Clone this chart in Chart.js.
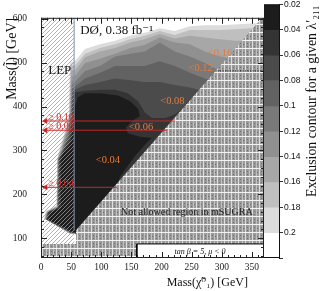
<!DOCTYPE html>
<html>
<head>
<meta charset="utf-8">
<script src="https://cdn.jsdelivr.net/npm/chart.js@4.4.0/dist/chart.umd.min.js"></script>
<style>
html, body { margin: 0; padding: 0; background: #fff; }
#wrap { position: relative; width: 320px; height: 291px; }
#main { position: absolute; left: 0; top: 0; }
#bar { position: absolute; left: 264px; top: 0; }
</style>
</head>
<body>
<div id="wrap">
  <canvas id="main" width="320" height="291"></canvas>
  <canvas id="bar" width="56" height="291"></canvas>
</div>
<script>
// contour levels (region where the limit on lambda'211 is below the level)
var levels = [0.20, 0.18, 0.16, 0.14, 0.12, 0.10, 0.08, 0.06, 0.04];
// colour bar band edges
var cbEdges = [0.02, 0.04, 0.06, 0.08, 0.10, 0.12, 0.14, 0.16, 0.18, 0.20, 0.22];
var bandColors = ['#1c1c1c', '#343434', '#4b4b4b', '#626262', '#797979', '#909090', '#a7a7a7', '#bfbfbf', '#dcdcdc', '#ffffff'];

// contour outlines [m(chi), m(slepton)] in GeV
var c20 = [[380,591],[347,589],[322,587],[297,585],[272,585],[247,583],[222,572],[197,578],[172,568],[148,561],[123,550],[98,542],[73,531],[56,503],[48,500],[46,380],[40,345],[32,310],[27,281],[26,175],[8,162],[5,145],[48,110],[56,110],[62,106],[380,106]];
var c18 = [[380,581],[347,578],[322,576],[297,574],[272,574],[247,574],[222,563],[197,572],[172,561],[148,553],[123,542],[98,533],[73,520],[56,492],[49,495],[47,380],[41,345],[33,308],[27,281],[26,173],[9,161],[6,145],[48,110],[56,110],[62,106],[380,106]];
var c16 = [[380,550],[347,550],[322,550],[297,553],[272,557],[247,561],[222,555],[197,565],[172,553],[148,546],[123,533],[98,525],[73,512],[56,481],[50,483],[48,380],[42,345],[34,306],[28,281],[27,172],[10,161],[7,144],[49,111],[56,111],[62,106],[380,106]];
var c14 = [[380,509],[347,509],[322,509],[297,514],[272,525],[247,542],[222,546],[197,557],[172,540],[148,533],[123,520],[98,509],[73,499],[56,469],[51,468],[49,380],[43,345],[35,304],[28,281],[27,171],[10,160],[7,144],[49,111],[56,111],[62,106],[380,106]];
var c12 = [[380,475],[347,475],[322,475],[297,481],[272,499],[247,514],[222,525],[197,546],[172,525],[148,520],[123,514],[98,492],[73,481],[56,456],[51,455],[49,380],[44,340],[35,302],[29,281],[27,171],[11,160],[8,144],[49,112],[56,112],[62,106],[380,106]];
var c10 = [[380,449],[347,449],[322,449],[297,456],[272,464],[247,477],[222,492],[197,503],[172,492],[148,492],[123,492],[98,477],[73,464],[56,445],[52,444],[50,375],[45,335],[36,300],[29,281],[28,170],[11,160],[8,143],[50,112],[56,112],[62,106],[380,106]];
var c08 = [[380,421],[347,421],[322,421],[297,428],[272,434],[247,443],[222,449],[197,456],[172,456],[148,460],[123,464],[98,456],[73,449],[56,438],[53,436],[51,370],[46,330],[37,300],[30,281],[28,170],[12,159],[9,143],[50,112],[56,112],[62,106],[380,106]];
var c06 = [[380,430],[272,434],[255,425],[244,412],[234,395],[222,382],[206,374],[184,374],[172,387],[161,412],[144,430],[123,438],[98,438],[73,436],[56,432],[54,430],[52,365],[48,325],[38,300],[31,281],[30,169],[13,159],[10,143],[51,113],[56,113],[62,106],[380,106]];
var c04 = [[61,421],[73,430],[98,430],[128,425],[148,412],[161,395],[164,378],[151,367],[141,352],[144,339],[164,331],[184,328],[177,320],[156,287],[131,240],[128,227],[123,212],[98,112],[56,114],[53,115],[12,143],[15,158],[32,169],[33,281],[40,300],[50,320],[54,360],[56,400]];
var contours = [c20, c18, c16, c14, c12, c10, c08, c06, c04];

// excluded / not allowed regions
var lepRegion = [[0,87],[55,87],[55,602],[0,602]];
var lepEdge = [[55,118],[55,602]];
var noGo = [[58,118],[367,602],[380,602],[380,40],[-10,40],[-10,87],[58,87]];
var noGoDots = [[293,481],[370,481]];
var infoBox = [[159,55],[370,55],[370,87],[159,87],[159,55]];

// limits from lower-mass region (arrows)
var limitText = ['\u2265 0.10', '\u2265 0.06', '\u2265 0.04'];
var limitMass = [367, 346, 216];
var limitEnd = [222, 209, 126];

// in-plot contour labels
var contourText = ['<0.16', '<0.12', '<0.08', '<0.06', '<0.04'];
var contourX = [297, 265, 218, 166, 111];
var contourY = [522, 488, 412, 352, 277];

var SERIF = '"Liberation Serif", "DejaVu Serif", serif';
var SANS = '"Liberation Sans", "DejaVu Sans", sans-serif';
Chart.defaults.font.family = SERIF;

var mctx = document.getElementById('main').getContext('2d');

function tile(w, h, draw) {
    var c = document.createElement('canvas');
    c.width = w; c.height = h;
    draw(c.getContext('2d'));
    return mctx.createPattern(c, 'repeat');
}

var lepHatch = tile(4, 4, function (g) {
    g.strokeStyle = '#a0a0a0';
    g.lineWidth = 0.8;
    g.beginPath();
    g.moveTo(0, 4); g.lineTo(4, 0);
    g.moveTo(-1, 1); g.lineTo(1, -1);
    g.moveTo(3, 5); g.lineTo(5, 3);
    g.stroke();
});

var crossHatch = tile(7, 8, function (g) {
    g.fillStyle = '#9a9a9a'; g.fillRect(0, 0, 7, 8);
    g.fillStyle = '#dcdcdc'; g.fillRect(0, 0, 1, 8);
    g.fillStyle = '#c0c0c0'; g.fillRect(4, 0, 1, 8);
    g.fillStyle = '#f2f2f2'; g.fillRect(0, 0, 7, 1);
    g.fillStyle = '#707070';
    g.fillRect(2, 3, 1, 1); g.fillRect(2, 6, 1, 1); g.fillRect(5, 4, 1, 1);
});

function pts(arr) {
    return arr.map(function (p) { return {x: p[0], y: p[1]}; });
}

function area(arr, bg, extra) {
    return Object.assign({data: pts(arr), fill: 'shape', backgroundColor: bg, borderWidth: 0, pointRadius: 0, tension: 0}, extra || {});
}

var datasets = [];
contours.forEach(function (c, i) {
    var band = Math.round((levels[i] - 0.04) / 0.02);
    datasets.push(area(c, bandColors[band]));
});
datasets.push(area(lepRegion, lepHatch));
datasets.push(area(noGo, crossHatch));
datasets.push({data: pts(noGoDots), borderColor: '#111', borderWidth: 1, borderDash: [1, 1.5], pointRadius: 0, fill: false});
datasets.push(area(infoBox, '#fff', {borderColor: '#000', borderWidth: 1}));
datasets.push({data: pts(lepEdge), borderColor: '#8292aa', borderWidth: 1, pointRadius: 0, fill: false});
limitMass.forEach(function (m, i) {
    datasets.push({
        data: [{x: 7.5, y: m}, {x: limitEnd[i], y: m}],
        borderColor: '#c62828', borderWidth: 1, fill: false,
        pointRadius: [3.5, 0], pointStyle: 'triangle', pointRotation: -90,
        pointBackgroundColor: '#c62828', pointBorderWidth: 0
    });
});
datasets.forEach(function (d, i) { d.order = datasets.length - i; });

var notes = [
    {t: 'D\u00D8, 0.38 fb\u207B\u00B9', x: 65, y: 573, c: '#111', f: '13px ' + SERIF, a: 'left', b: 'middle'},
    {t: 'LEP', x: 12, y: 481, c: '#111', f: '13px ' + SERIF, a: 'left', b: 'middle'},
    {t: 'Not allowed region in mSUGRA', x: 242, y: 160, c: '#222', f: '10px ' + SERIF, a: 'center', b: 'middle'},
    {t: 'tan \u03B2 = 5, \u03BC < 0', x: 264, y: 70, c: '#111', f: 'italic 8px ' + SERIF, a: 'center', b: 'middle'}
];
contourText.forEach(function (t, i) {
    notes.push({t: t, x: contourX[i], y: contourY[i], c: '#ec7a35', f: '10.5px ' + SERIF, a: 'center', b: 'middle'});
});
limitText.forEach(function (t, i) {
    notes.push({t: t, x: 12, y: limitMass[i] + 2.5, c: '#d42a2a', f: '10px ' + SERIF, a: 'left', b: 'alphabetic'});
});

var notesPlugin = {
    id: 'notes',
    afterDatasetsDraw: function (chart) {
        var ctx = chart.ctx, xs = chart.scales.x, ys = chart.scales.y, a = chart.chartArea;
        ctx.save();
        notes.forEach(function (n) {
            ctx.font = n.f;
            ctx.fillStyle = n.c;
            ctx.textAlign = n.a;
            ctx.textBaseline = n.b;
            ctx.fillText(n.t, xs.getPixelForValue(n.x), ys.getPixelForValue(n.y));
        });
        ctx.font = '12px ' + SERIF;
        ctx.fillStyle = '#111';
        ctx.textAlign = 'right';
        ctx.textBaseline = 'middle';
        ctx.fillText('Mass(\u03C7\u0303\u2070\u2081) [GeV]', a.right - 16, a.bottom + 25);
        ctx.restore();
    }
};

var framePlugin = {
    id: 'frame',
    afterDraw: function (chart) {
        var ctx = chart.ctx, xs = chart.scales.x, ys = chart.scales.y, a = chart.chartArea;
        ctx.save();
        ctx.strokeStyle = '#222';
        ctx.lineWidth = 1;
        ctx.beginPath();
        for (var v = 0; v <= 370; v += 10) {
            var len = v % 50 === 0 ? 6 : 3;
            var px = Math.round(xs.getPixelForValue(v)) + 0.5;
            ctx.moveTo(px, a.bottom); ctx.lineTo(px, a.bottom - len);
            ctx.moveTo(px, a.top); ctx.lineTo(px, a.top + len);
        }
        for (var w = 60; w <= 600; w += 20) {
            var l2 = w % 100 === 0 ? 6 : 3;
            var py = Math.round(ys.getPixelForValue(w)) + 0.5;
            ctx.moveTo(a.left, py); ctx.lineTo(a.left + l2, py);
            ctx.moveTo(a.right, py); ctx.lineTo(a.right - l2, py);
        }
        ctx.stroke();
        ctx.strokeRect(a.left + 0.5, a.top + 0.5, a.right - a.left - 1, a.bottom - a.top - 1);
        ctx.restore();
    }
};

new Chart(mctx, {
    type: 'line',
    data: {datasets: datasets},
    options: {
        responsive: false,
        animation: false,
        events: [],
        layout: {padding: {left: 0, right: 56, top: 4, bottom: 0}},
        plugins: {legend: {display: false}, tooltip: {enabled: false}},
        scales: {
            x: {
                type: 'linear', min: 0, max: 370,
                ticks: {stepSize: 50, includeBounds: false, autoSkip: false, maxRotation: 0, padding: 4, color: '#222', font: {family: SERIF, size: 9.5}},
                grid: {display: false, drawTicks: false},
                border: {display: false},
                afterFit: function (s) { s.height = 33; }
            },
            y: {
                type: 'linear', min: 55, max: 602,
                ticks: {stepSize: 100, includeBounds: false, autoSkip: false, padding: 14, color: '#222', font: {family: SERIF, size: 9.5, lineHeight: 0.8}},
                grid: {display: false, drawTicks: false},
                border: {display: false},
                title: {display: true, text: 'Mass(l\u0303) [GeV]', align: 'end', color: '#111', font: {family: SERIF, size: 14}, padding: {top: 4, bottom: 0}},
                afterFit: function (s) { s.width = 41; }
            }
        }
    },
    plugins: [notesPlugin, framePlugin]
});

// colour bar
var cbDatasets = bandColors.map(function (col, i) {
    return {data: [[cbEdges[i], cbEdges[i + 1]]], backgroundColor: col, borderWidth: 0, barPercentage: 1, categoryPercentage: 1, grouped: false};
});

var cbPlugin = {
    id: 'cbBox',
    afterDraw: function (chart) {
        var ctx = chart.ctx, a = chart.chartArea;
        ctx.save();
        ctx.strokeStyle = '#111';
        ctx.lineWidth = 1;
        ctx.beginPath();
        ctx.moveTo(a.left, a.top + 0.5); ctx.lineTo(a.right, a.top + 0.5);
        ctx.moveTo(a.left, a.bottom - 0.5); ctx.lineTo(a.right, a.bottom - 0.5);
        ctx.stroke();
        ctx.translate(48, a.top + 1);
        ctx.rotate(-Math.PI / 2);
        ctx.font = '13.8px ' + SERIF;
        ctx.fillStyle = '#111';
        ctx.textAlign = 'right';
        ctx.textBaseline = 'middle';
        ctx.fillText('Exclusion contour for a given \u03BB\u2032\u2082\u2081\u2081', 0, 0);
        ctx.restore();
    }
};

new Chart(document.getElementById('bar'), {
    type: 'bar',
    data: {labels: ['cb'], datasets: cbDatasets},
    options: {
        responsive: false,
        animation: false,
        events: [],
        layout: {padding: {left: 0, right: 0, top: 4, bottom: 33}},
        plugins: {legend: {display: false}, tooltip: {enabled: false}},
        scales: {
            x: {display: false},
            y: {
                position: 'right', reverse: true, min: 0.02, max: 0.22,
                ticks: {
                    stepSize: 0.02, padding: 1, color: '#111',
                    font: {family: SANS, size: 8.5, lineHeight: 0.8},
                    callback: function (v) { return v > 0.21 ? '' : String(+v.toFixed(2)); }
                },
                grid: {drawOnChartArea: false, drawTicks: true, tickLength: 4, color: '#333'},
                border: {color: '#111'},
                afterFit: function (s) { s.width = 41; }
            }
        }
    },
    plugins: [cbPlugin]
});
</script>
</body>
</html>
